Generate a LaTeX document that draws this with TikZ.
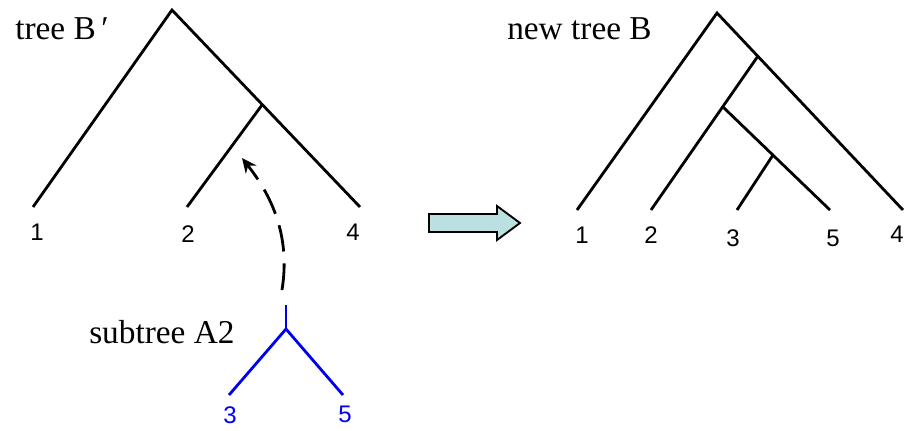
\documentclass[tikz,border=0pt]{standalone}
\usepackage{fontspec}
\setmainfont{Liberation Serif}
\setsansfont{Liberation Sans}
\usetikzlibrary{arrows.meta}

\definecolor{subblue}{RGB}{0,0,240}
\definecolor{shiftfill}{RGB}{186,224,226}

\tikzset{
  branch/.style={line width=2.1pt, line cap=butt},
  subbranch/.style={branch, draw=subblue},
  leaf/.style={font=\sffamily\fontsize{18}{18}\selectfont, inner sep=0pt, anchor=base},
  caption/.style={font=\fontsize{25}{25}\selectfont, inner sep=0pt, anchor=base west},
  movepath/.style={line width=2.1pt, dash pattern=on 20pt off 9pt, -{Stealth[length=11pt,width=10pt]}},
  shiftarrow/.style={draw=black, line width=1.4pt, fill=shiftfill, line join=miter},
}

\begin{document}
\begin{tikzpicture}[x=0.75pt,y=-0.75pt]
        \useasboundingbox (0,0) rectangle (908,430);

        % tree B'
        \coordinate (r) at (172,10);
        \coordinate (u) at (262,105);
        \coordinate (l1) at (33,207);
        \coordinate (l2) at (187,207);
        \coordinate (l4) at (360,207);

        \draw[branch] (l1) -- (r) -- (l4);
        \draw[branch] (u) -- (l2);

        \node[leaf] (t1) at (37,240) {1};
        \node[leaf] (t2) at (188,242) {2};
        \node[leaf] (t4) at (353,240) {4};
        \node[caption] (tb) at (15,39) {tree B\,′};

        % subtree A2
        \coordinate (s0) at (286,305);
        \coordinate (s) at (286,329);
        \coordinate (b3) at (229,395);
        \coordinate (b5) at (343,395);

        \draw[subbranch] (s0) -- (s);
        \draw[subbranch] (b3) -- (s) -- (b5);

        \node[leaf, text=subblue] (c3) at (230,423) {3};
        \node[leaf, text=subblue] (c5) at (345,422) {5};
        \node[caption] (ta) at (89,343) {subtree A2};

        % moving A2 into B'
        \coordinate (from) at (282,290);
        \coordinate (to) at (242,158);
        \draw[movepath] (from) .. controls (290,240) and (275,200) .. (to);

        % block arrow
        \draw[shiftarrow] (429,214) -- (497,214) -- (497,206) -- (520,223)
          -- (497,240) -- (497,232) -- (429,232) -- cycle;

        % new tree B
        \coordinate (R) at (717,13);
        \coordinate (N1) at (758,56);
        \coordinate (N2) at (723,107);
        \coordinate (N3) at (773,155);
        \coordinate (a1) at (577,210);
        \coordinate (a2) at (651,210);
        \coordinate (a3) at (737,210);
        \coordinate (a5) at (830,210);
        \coordinate (a4) at (903,210);

        \draw[branch] (a1) -- (R) -- (a4);
        \draw[branch] (N1) -- (a2);
        \draw[branch] (N2) -- (a5);
        \draw[branch] (N3) -- (a3);

        \node[leaf] (n1) at (582,243) {1};
        \node[leaf] (n2) at (651,243) {2};
        \node[leaf] (n3) at (733,246) {3};
        \node[leaf] (n5) at (833,246) {5};
        \node[leaf] (n4) at (897,242) {4};
        \node[caption] (tn) at (507,39) {new tree B};
      \end{tikzpicture}
\end{document}
